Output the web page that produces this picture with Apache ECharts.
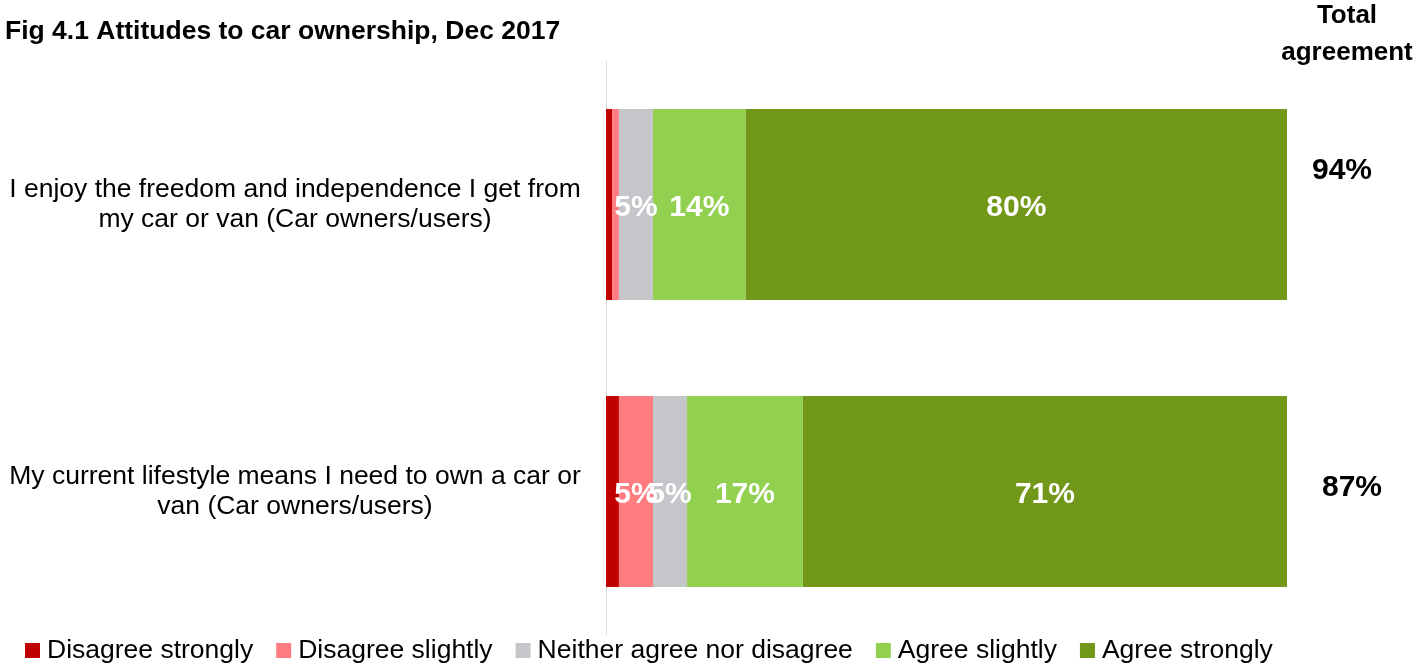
<!DOCTYPE html>
<html>
<head>
<meta charset="utf-8">
<script src="https://cdn.jsdelivr.net/npm/echarts@6/dist/echarts.min.js"></script>
<style>
html,body{margin:0;padding:0;background:#fff;}
#chart{width:1416px;height:663px;}
</style>
</head>
<body>
<div id="chart"></div>
<script>
// ---- data ----
var categories = [
  'I enjoy the freedom and independence I get from\nmy car or van (Car owners/users)',
  'My current lifestyle means I need to own a car or\nvan (Car owners/users)'
];
var seriesNames = ['Disagree strongly', 'Disagree slightly', 'Neither agree nor disagree', 'Agree slightly', 'Agree strongly'];
var disagreeStrongly = [0.9, 1.9];
var disagreeSlightly = [1.0, 5.0];
var neither = [5.0, 5.0];
var agreeSlightly = [13.6, 17.0];
var agreeStrongly = [79.5, 71.1];
var totalAgreement = [94, 87];

// ---- styles ----
var colors = ['#C00000', '#FF7C80', '#C5C6CA', '#92D050', '#72981A'];
var FONT = '"Liberation Sans", Arial, sans-serif';
var totalOffsets = [[1342, -34], [1352, -4]]; // [x centre, y offset from band centre]

var chart = echarts.init(document.getElementById('chart'));
var seriesData = [disagreeStrongly, disagreeSlightly, neither, agreeSlightly, agreeStrongly];

var series = seriesData.map(function (d, i) {
  return {
    name: seriesNames[i],
    type: 'bar',
    stack: 'total',
    data: d,
    barCategoryGap: '33.5%',
    itemStyle: { color: colors[i] },
    emphasis: { disabled: true },
    label: {
      show: true,
      position: 'inside',
      offset: [0, 3],
      color: '#fff',
      fontFamily: FONT,
      fontWeight: 'bold',
      fontSize: 30,
      formatter: function (p) {
        return p.value >= 4.5 ? Math.round(p.value) + '%' : '';
      }
    }
  };
});

chart.setOption({
  animation: false,
  textStyle: { fontFamily: FONT },
  title: {
    text: 'Fig 4.1 Attitudes to car ownership, Dec 2017',
    left: 0, top: 13,
    textStyle: { fontFamily: FONT, fontSize: 26.5, fontWeight: 'bold', color: '#000' }
  },
  legend: {
    data: seriesNames,
    top: 637, left: 25,
    padding: 0,
    itemWidth: 15, itemHeight: 15, itemGap: 23,
    icon: 'rect',
    textStyle: { fontFamily: FONT, fontSize: 26.5, color: '#000', padding: [0, 0, 0, 2] }
  },
  grid: { left: 606, right: 129, top: 61, bottom: 28, containLabel: false },
  xAxis: {
    type: 'value', min: 0, max: 100, show: false
  },
  yAxis: {
    type: 'category',
    data: categories,
    inverse: true,
    axisLine: { show: true, lineStyle: { color: '#D9D9D9', width: 1 } },
    axisTick: { show: false },
    axisLabel: {
      margin: 311, align: 'center',
      fontFamily: FONT, fontSize: 26.5, lineHeight: 30, color: '#000'
    }
  },
  series: series
});

// "Total agreement" column
var graphics = [
  { type: 'text', x: 1347, y: 16, style: { text: 'Total', font: 'bold 26px ' + FONT, fill: '#000', textAlign: 'center', textVerticalAlign: 'middle' } },
  { type: 'text', x: 1347, y: 53, style: { text: 'agreement', font: 'bold 26px ' + FONT, fill: '#000', textAlign: 'center', textVerticalAlign: 'middle' } }
];
categories.forEach(function (c, i) {
  var y = chart.convertToPixel({ yAxisIndex: 0 }, i);
  graphics.push({
    type: 'text', x: totalOffsets[i][0], y: y + totalOffsets[i][1],
    style: { text: totalAgreement[i] + '%', font: 'bold 30px ' + FONT, fill: '#000', textAlign: 'center', textVerticalAlign: 'middle' }
  });
});
chart.setOption({ graphic: graphics });
</script>
</body>
</html>
